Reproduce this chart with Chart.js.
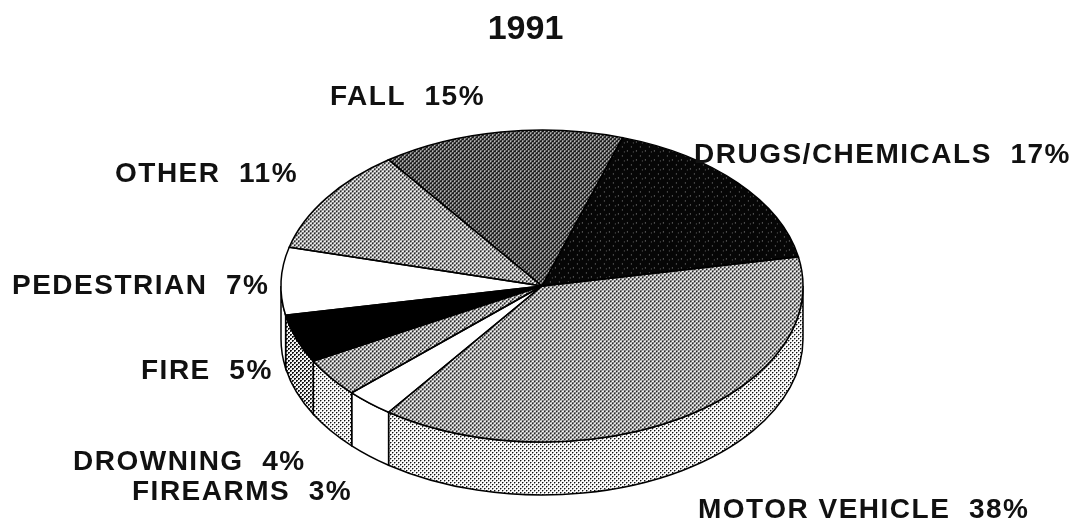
<!DOCTYPE html>
<html><head><meta charset="utf-8">
<style>html,body{margin:0;padding:0;background:#fff;overflow:hidden}canvas{display:block}</style>
<script src="https://cdn.jsdelivr.net/npm/chart.js@4"></script>
</head><body><canvas id="c" width="1083" height="525"></canvas>
<script>
const titleText = '1991';
const categories = ['MOTOR VEHICLE','FIREARMS','DROWNING','FIRE','PEDESTRIAN','OTHER','FALL','DRUGS/CHEMICALS'];
const values = [38,3,4,5,7,11,15,17];
const labelX = [698,132,73,141,12,115,330,694];
const labelY = [518,500,470,379,294,182,105,163];
const startRotation = 79.2;
// ellipse geometry of the tilted pie
const CX=542, CY=286, RX=261, RY=156, DEPTH=53;

function tile(w,h,bg,cells){
  const c=document.createElement('canvas');c.width=w;c.height=h;
  const x=c.getContext('2d');x.fillStyle=bg;x.fillRect(0,0,w,h);
  cells.forEach(p=>{x.fillStyle=p[2];x.fillRect(p[0],p[1],1,1);});
  return document.createElement('canvas').getContext('2d').createPattern(c,'repeat');
}
const medium = ()=>tile(4,4,'#f6f6f6',[[0,0,'#111'],[1,0,'#222'],[0,1,'#222'],[1,1,'#aaa'],[2,2,'#111'],[3,2,'#222'],[2,3,'#222'],[3,3,'#aaa']]);
const light  = ()=>tile(4,4,'#fbfbfb',[[0,0,'#111'],[1,0,'#999'],[0,1,'#999'],[2,2,'#111'],[3,2,'#999'],[2,3,'#999']]);
const dark   = ()=>tile(4,4,'#141414',[[0,0,'#eee'],[1,0,'#ccc'],[0,1,'#aaa'],[2,2,'#eee'],[3,2,'#ccc'],[2,3,'#aaa']]);
const nearBlack = ()=>tile(9,9,'#060606',[[1,2,'#999'],[5,7,'#888'],[7,3,'#666']]);
const topFills = [medium(),'#ffffff',medium(),'#000000','#ffffff',medium(),dark(),nearBlack()];
const wallFills = [light(),'#ffffff',light(),medium(),'#ffffff',light(),dark(),nearBlack()];

const tilted = {
  id:'tilted',
  beforeDatasetsDraw(chart){
    const ctx=chart.ctx, arcs=chart.getDatasetMeta(0).data, R=arcs[0].outerRadius;
    const sx=RX/R, sy=RY/R;
    ctx.save();
    ctx.lineWidth=1.5;ctx.strokeStyle='#000';
    arcs.forEach((a,i)=>{
      [[0,Math.PI],[2*Math.PI,3*Math.PI]].forEach(([lo,hi])=>{
        const s=Math.max(a.startAngle,lo), e=Math.min(a.endAngle,hi);
        if(e<=s) return;
        ctx.beginPath();
        ctx.ellipse(CX,CY,RX,RY,0,s,e);
        ctx.ellipse(CX,CY+DEPTH,RX,RY,0,e,s,true);
        ctx.closePath();
        ctx.fillStyle=wallFills[i];ctx.fill();ctx.stroke();
      });
    });
    ctx.restore();
    topFills.forEach(f=>{ if(typeof f!=='string') f.setTransform(new DOMMatrix().scale(1/sx,1/sy)); });
    ctx.save();
    ctx.translate(CX,CY);ctx.scale(sx,sy);ctx.translate(-arcs[0].x,-arcs[0].y);
  },
  afterDatasetsDraw(chart){
    const ctx=chart.ctx, arcs=chart.getDatasetMeta(0).data;
    ctx.restore();
    ctx.save();
    ctx.lineWidth=1.5;ctx.strokeStyle='#000';
    arcs.forEach(a=>{
      ctx.beginPath();ctx.moveTo(CX,CY);
      ctx.ellipse(CX,CY,RX,RY,0,a.startAngle,a.endAngle);
      ctx.closePath();ctx.stroke();
    });
    ctx.fillStyle='#111';
    ctx.letterSpacing='1.5px';
    ctx.font='bold 28px "Liberation Sans"';
    ctx.textAlign='left';ctx.textBaseline='alphabetic';
    categories.forEach((c,i)=>ctx.fillText(c+'  '+values[i]+'%',labelX[i],labelY[i]));
    ctx.restore();
  }
};

new Chart(document.getElementById('c'),{
  type:'pie',
  data:{labels:categories,datasets:[{data:values,backgroundColor:topFills,borderWidth:0,clip:false}]},
  options:{
    responsive:false,animation:false,rotation:startRotation,
    layout:{padding:{right:32}},
    plugins:{legend:{display:false},tooltip:{enabled:false},
      title:{display:true,fullSize:false,text:titleText,color:'#111',font:{family:'"Liberation Sans"',size:34,weight:'bold'},padding:{top:9,bottom:4}}}
  },
  plugins:[tilted]
});
</script></body></html>
